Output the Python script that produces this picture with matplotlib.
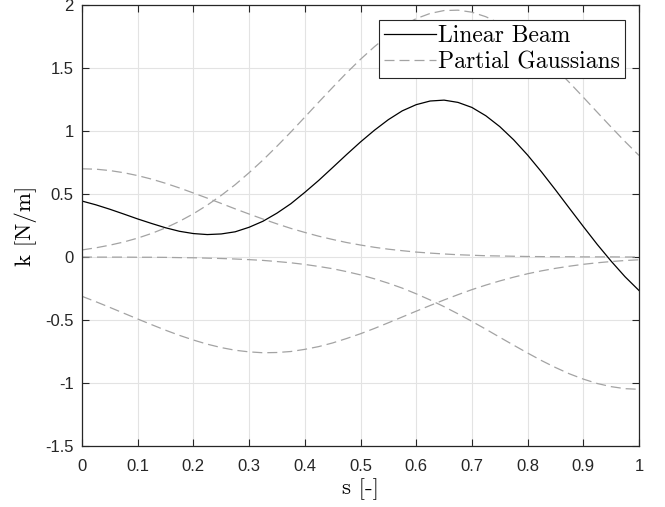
import numpy as np
import matplotlib.pyplot as plt
from matplotlib.ticker import FormatStrFormatter

# values every 0.025 in s
s = np.linspace(0, 1, 41)

linear_beam = [0.444, 0.414, 0.379, 0.341, 0.302, 0.266, 0.232, 0.204, 0.186, 0.178,
               0.183, 0.200, 0.236, 0.284, 0.348, 0.423, 0.513, 0.608, 0.710, 0.813,
               0.913, 1.006, 1.090, 1.160, 1.209, 1.238, 1.245, 1.227, 1.187, 1.121,
               1.035, 0.930, 0.809, 0.675, 0.533, 0.387, 0.242, 0.100, -0.033, -0.157,
               -0.266]

gauss1 = [0.700, 0.697, 0.686, 0.669, 0.646, 0.618, 0.585, 0.548, 0.508, 0.467,
          0.425, 0.382, 0.341, 0.301, 0.263, 0.227, 0.195, 0.165, 0.139, 0.115,
          0.095, 0.077, 0.062, 0.050, 0.039, 0.031, 0.024, 0.018, 0.014, 0.010,
          0.008, 0.006, 0.004, 0.003, 0.002, 0.002, 0.001, 0.001, 0.001, 0.000,
          0.000]
gauss2 = [0.056, 0.073, 0.094, 0.119, 0.150, 0.187, 0.231, 0.283, 0.343, 0.412,
          0.489, 0.574, 0.669, 0.770, 0.879, 0.992, 1.110, 1.229, 1.346, 1.461,
          1.569, 1.669, 1.758, 1.833, 1.892, 1.933, 1.956, 1.959, 1.943, 1.907,
          1.854, 1.784, 1.700, 1.604, 1.498, 1.385, 1.268, 1.149, 1.031, 0.916,
          0.806]
gauss3 = [-0.312, -0.355, -0.400, -0.446, -0.492, -0.537, -0.581, -0.622, -0.659, -0.692,
          -0.719, -0.740, -0.753, -0.760, -0.758, -0.750, -0.733, -0.711, -0.682, -0.647,
          -0.609, -0.567, -0.522, -0.476, -0.430, -0.385, -0.341, -0.299, -0.259, -0.223,
          -0.190, -0.160, -0.133, -0.110, -0.090, -0.073, -0.058, -0.046, -0.036, -0.028,
          -0.022]
gauss4 = [0.000, -0.001, -0.001, -0.001, -0.002, -0.002, -0.003, -0.005, -0.006, -0.009,
          -0.012, -0.016, -0.021, -0.027, -0.036, -0.046, -0.059, -0.075, -0.093, -0.116,
          -0.142, -0.173, -0.208, -0.247, -0.292, -0.341, -0.394, -0.451, -0.511, -0.573,
          -0.637, -0.700, -0.762, -0.822, -0.877, -0.927, -0.969, -1.004, -1.029, -1.045,
          -1.050]

xticks = [0, 0.1, 0.2, 0.3, 0.4, 0.5, 0.6, 0.7, 0.8, 0.9, 1]
yticks = [-1.5, -1, -0.5, 0, 0.5, 1, 1.5, 2]

fig = plt.figure(figsize=(6.65, 5.07), dpi=100)
ax = fig.add_axes([82/665, 61/507, 557/665, 441/507])

ax.plot(s, linear_beam, color='black', lw=0.9, label='Linear Beam')
dash = dict(color='#a3a3a3', lw=0.9, dashes=(8, 4))
ax.plot(s, gauss1, label='Partial Gaussians', **dash)
for g in (gauss2, gauss3, gauss4):
    ax.plot(s, g, **dash)

ax.set_xlim(0, 1)
ax.set_ylim(-1.5, 2)
ax.set_xticks(xticks)
ax.set_yticks(yticks)
ax.xaxis.set_major_formatter(FormatStrFormatter('%g'))
ax.yaxis.set_major_formatter(FormatStrFormatter('%g'))
ax.grid(True, color='#e3e3e3', lw=0.8)
ax.set_axisbelow(True)
ax.tick_params(direction='in', top=True, right=True, length=5, width=0.8,
               colors='#262626', labelsize=12)
ax.tick_params(axis='x', pad=9.5)
ax.tick_params(axis='y', pad=6)
for lab in ax.get_xticklabels() + ax.get_yticklabels():
    lab.set_fontfamily('Liberation Sans')
for sp in ax.spines.values():
    sp.set_color('#262626')
    sp.set_linewidth(0.9)

ax.set_xlabel('s [-]', fontfamily='cmr10', fontsize=16.5, labelpad=3)
ax.set_ylabel('k [N/m]', fontfamily='cmr10', fontsize=16.5, labelpad=6)

leg = ax.legend(loc='upper right', bbox_to_anchor=(543/557, 1 - 15/441),
                borderaxespad=0, prop={'family': 'cmr10', 'size': 17},
                handlelength=2.2, handletextpad=0.1, labelspacing=0.2,
                borderpad=0.2, fancybox=False, framealpha=1)
leg.get_frame().set_edgecolor('#262626')
leg.get_frame().set_linewidth(0.8)

fig.savefig('out.png', dpi=100)
